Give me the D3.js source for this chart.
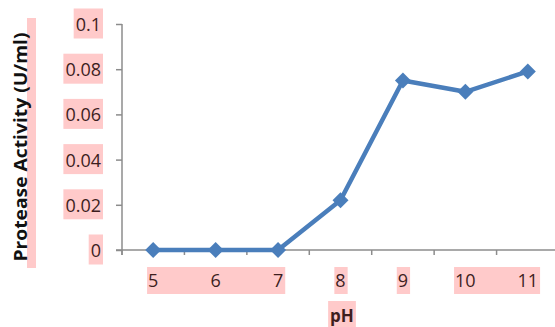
<!DOCTYPE html>
<html><head><meta charset="utf-8">
<script src="https://cdn.jsdelivr.net/npm/d3@7"></script>
<style>body{margin:0;background:#fff}svg{display:block}</style>
</head><body>
<script>
const categories = ["5","6","7","8","9","10","11"];
const activity = [0, 0, 0, 0.022, 0.075, 0.070, 0.079];
const yTickValues = [0, 0.02, 0.04, 0.06, 0.08, 0.1];
const yTickLabels = ["0","0.02","0.04","0.06","0.08","0.1"];
const xHighlightGroups = [["5","6","7"],["8"],["9"],["10","11"]];
const xTitle = "pH";
const yTitle = "Protease Activity (U/ml)";

const W = 555, H = 327;
const pink = "#ffcaca", txt = "#3d1e1e", axisCol = "#8c8c8c", blue = "#4a7ebb";
const svg = d3.select("body").append("svg").attr("width", W).attr("height", H);
const x = d3.scaleBand().domain(categories).range([122, 559]).padding(0);
const y = d3.scaleLinear().domain([0, 0.1]).range([250, 24]);
const font = "'Open Sans', sans-serif";

const bgLayer = svg.append("g");
const fgLayer = svg.append("g");

// Y axis
const yAxis = fgLayer.append("g").attr("transform", "translate(122,0)")
  .call(d3.axisLeft(y).tickValues(yTickValues).tickSize(6).tickPadding(15)
    .tickFormat((d,i) => yTickLabels[i]));
yAxis.select(".domain").attr("stroke", axisCol).attr("stroke-width", 1.5).attr("d", `M0,${y(0.1)}V${y(0)+5}`);
yAxis.selectAll(".tick line").attr("stroke", axisCol).attr("stroke-width", 1.5);
yAxis.selectAll(".tick text").attr("font-family", font).attr("font-size", 18).attr("fill", txt).attr("dy", "0.36em");

// X axis
const xg = fgLayer.append("g");
xg.append("line").attr("x1", 116).attr("x2", W).attr("y1", y(0)).attr("y2", y(0))
  .attr("stroke", axisCol).attr("stroke-width", 1.5);
const bounds = categories.map(c => x(c)).concat([x.range()[1]]);
xg.selectAll("line.t").data(bounds).join("line").attr("class","t")
  .attr("x1", d => d).attr("x2", d => d).attr("y1", y(0)).attr("y2", y(0)+5)
  .attr("stroke", axisCol).attr("stroke-width", 1.5);
const xLabels = xg.selectAll("text.xl").data(categories).join("text").attr("class","xl")
  .attr("x", d => x(d) + x.bandwidth()/2).attr("y", 287)
  .attr("text-anchor", "middle").attr("font-family", font).attr("font-size", 18).attr("fill", txt)
  .text(d => d);

// highlight boxes for y tick labels
yAxis.selectAll(".tick text").each(function() {
  const b = this.getBBox();
  const t = this.parentNode.getAttribute("transform");
  const ty = +t.match(/,\s*([-\d.]+)/)[1];
  bgLayer.append("rect").attr("x", 122 + b.x - 2).attr("y", ty - 16)
    .attr("width", b.width + 4).attr("height", 30).attr("fill", pink);
});
// highlight boxes for x labels
const xBoxes = {};
xLabels.each(function(d) { xBoxes[d] = this.getBBox(); });
xHighlightGroups.forEach(g => {
  const x0 = d3.min(g, c => xBoxes[c].x) - 1, x1 = d3.max(g, c => xBoxes[c].x + xBoxes[c].width) + 2;
  bgLayer.append("rect").attr("x", x0).attr("y", 267).attr("width", x1 - x0).attr("height", 27).attr("fill", pink);
});

// X title
const xt = fgLayer.append("text").attr("x", 342).attr("y", 322).attr("text-anchor", "middle")
  .attr("font-family", font).attr("font-weight", "bold").attr("font-size", 17).attr("fill", txt).text(xTitle);
const xb = xt.node().getBBox();
bgLayer.append("rect").attr("x", xb.x - 2).attr("y", 301).attr("width", xb.width + 4).attr("height", 26).attr("fill", pink);

// Y title
bgLayer.append("rect").attr("x", 27).attr("y", 18).attr("width", 9).attr("height", 250).attr("fill", pink);
fgLayer.append("text").attr("transform", "translate(27,147) rotate(-90)").attr("text-anchor", "middle")
  .attr("font-family", font).attr("font-weight", "bold").attr("font-size", 17).attr("fill", "#111")
  .attr("textLength", 229).attr("lengthAdjust", "spacingAndGlyphs").text(yTitle);

// Line + markers
const pts = categories.map((c,i) => [x(c) + x.bandwidth()/2, y(activity[i])]);
fgLayer.append("path").datum(pts).attr("d", d3.line()).attr("fill", "none")
  .attr("stroke", blue).attr("stroke-width", 4.5).attr("stroke-linejoin", "round");
fgLayer.selectAll("path.m").data(pts).join("path").attr("class","m")
  .attr("transform", d => `translate(${d[0]},${d[1]})`)
  .attr("d", "M0,-8L8,0L0,8L-8,0Z").attr("fill", blue);
</script>
</body></html>
